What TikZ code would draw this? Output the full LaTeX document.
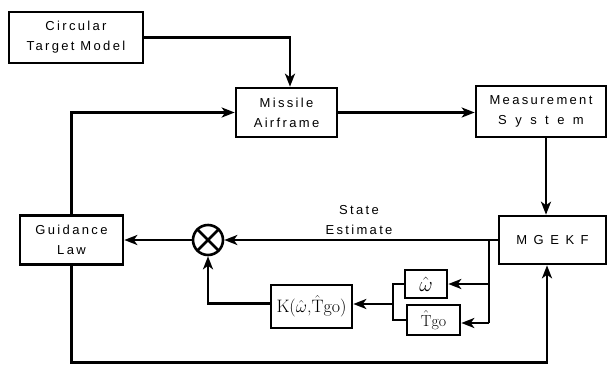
\documentclass[tikz,border=0pt]{standalone}
\usepackage{fontspec}
\usetikzlibrary{arrows.meta}
\newfontfamily\lblfont{Liberation Sans}[LetterSpace=18]
\tikzset{
  blk/.style={draw, line width=2.6pt, align=center, inner sep=0pt,
    font=\lblfont\fontsize{13}{20}\selectfont},
  mbox/.style={draw, line width=2.6pt, align=center, inner sep=0pt},
  lbl/.style={align=center, inner sep=0pt, font=\lblfont\fontsize{13}{20}\selectfont},
  conn/.style={line width=2.5pt},
  arr/.style={line width=2.5pt, -{Stealth[length=13pt,width=10pt,inset=3.5pt]}},
  sumj/.style={circle, draw, line width=2.6pt, minimum size=30pt, inner sep=0pt,
    path picture={
      \draw[line width=2.6pt] (path picture bounding box.north west) -- (path picture bounding box.south east);
      \draw[line width=2.6pt] (path picture bounding box.north east) -- (path picture bounding box.south west);
    }}
}
\begin{document}
\begin{tikzpicture}[x=1pt,y=-1pt]
\useasboundingbox (0,0) rectangle (608,365);
\node[blk, minimum width=134pt, minimum height=51pt] (ctm) at (76,37.5) {Circular\\Target Model};
\node[blk, minimum width=101pt, minimum height=49pt] (ma) at (286.5,112.5) {Missile\\Airframe};
\node[blk, minimum width=130pt, minimum height=51pt] (ms) at (541,111.5) {Measurement\\{\addfontfeature{LetterSpace=65}System}};
\node[blk, minimum width=107pt, minimum height=48pt] (mg) at (552.5,240) {\addfontfeature{LetterSpace=50}MGEKF};
\node[blk, minimum width=103pt, minimum height=49pt] (gl) at (71.5,240) {Guidance\\Law};
\node[sumj] (s) at (208,240) {};
\node[mbox, minimum width=42pt, minimum height=28pt, font=\fontsize{20}{20}\selectfont] (w) at (426,284) {$\hat{\omega}$};
\node[mbox, minimum width=53pt, minimum height=30pt, font=\fontsize{16}{16}\selectfont] (t) at (433.5,320) {$\hat{\mathrm{T}}$go};
\node[mbox, minimum width=81pt, minimum height=43pt, font=\fontsize{18}{18}\selectfont] (k) at (311.5,306.5) {K($\hat{\omega}$,$\hat{\mathrm{T}}$go)};
\node[lbl] (se) at (359,220) {State\\Estimate};

\draw[arr] (ctm.east) -| ([xshift=3.5pt]ma.north);
\draw[arr] (gl.north) |- (ma.west);
\draw[arr] (ma.east) -- (ma.east -| ms.west);
\draw[arr] ([xshift=5pt]ms.south) -- ([xshift=5pt]ms.south |- mg.north);
\draw[arr] (mg.west) -- (s.east);
\draw[arr] (s.west) -- (gl.east);
\coordinate (b) at (489,240);
\coordinate (b2) at (489,323);
\draw[conn] (b) -- (b2);
\draw[arr] (b |- w.east) -- (w.east);
\draw[arr] (b2) -- (b2 -| t.east);
\coordinate (br) at (393,304);
\draw[conn] (w.west) -| (br) |- (t.west);
\draw[arr] (br) -- (br -| k.east);
\draw[arr] ([yshift=3pt]k.west) -| (s.south);
\coordinate (bot) at (547,362.5);
\draw[arr] (gl.south) |- (bot) -- (bot |- mg.south);
\end{tikzpicture}
\end{document}
